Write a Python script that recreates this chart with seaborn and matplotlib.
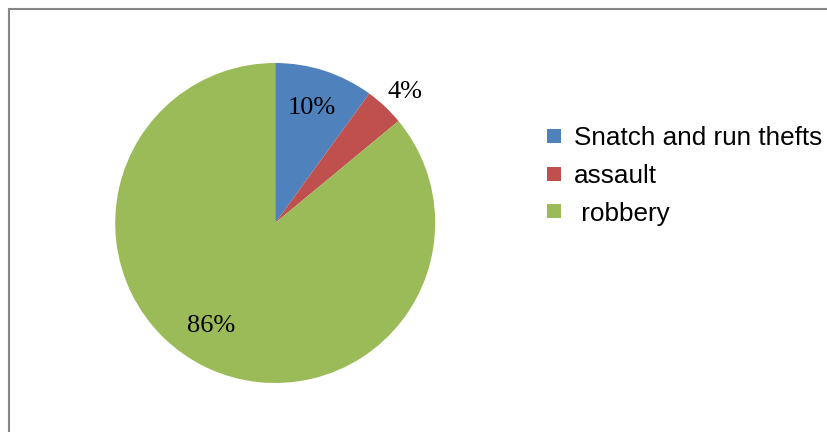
import numpy as np
import matplotlib
matplotlib.use("Agg")
import matplotlib.pyplot as plt
from matplotlib.patches import Rectangle
from matplotlib.lines import Line2D
import seaborn as sns

# Share of incidents by offence type
categories = ["Snatch and run thefts", "assault", " robbery"]
shares = [10, 4, 86]
pct_labels = ["10%", "4%", "86%"]

# Label placement: radius (in pie radii) and angular nudge (degrees) per wedge
label_radius = [0.72, 1.125, 0.79]
label_nudge = [-0.4, -3.0, -5.0]

colors = sns.color_palette(["#4F81BD", "#C0504D", "#9BBB59"])

sns.set_theme(style="white")
plt.rcParams["font.family"] = ["Liberation Sans", "DejaVu Sans"]

W, H = 828, 432
fig = plt.figure(figsize=(W / 100, H / 100), dpi=100)
fig.patch.set_facecolor("white")

# Chart frame (open to the right and bottom)
fig.add_artist(Rectangle((9 / W, -0.1), 1.2, (H - 9) / H + 0.1,
                         transform=fig.transFigure, fill=False,
                         edgecolor="#868686", linewidth=1.5))

cx, cy, r = 275.2, 223.0, 160.0
ax = fig.add_axes([(cx - r) / W, (H - cy - r) / H, 2 * r / W, 2 * r / H])
wedges, _ = ax.pie(shares, colors=colors, startangle=90, counterclock=False,
                   radius=1.0, wedgeprops=dict(linewidth=0))
ax.set_xlim(-1, 1)
ax.set_ylim(-1, 1)
ax.set_aspect("equal")
ax.axis("off")

for w, lab, rad, nudge in zip(wedges, pct_labels, label_radius, label_nudge):
    mid = np.deg2rad((w.theta1 + w.theta2) / 2 + nudge)
    ax.text(rad * np.cos(mid), rad * np.sin(mid), lab, ha="center", va="baseline",
            fontsize=19, family=["Liberation Serif", "DejaVu Serif"], color="black")

handles = [Line2D([], [], marker="s", linestyle="none", markersize=9.5,
                  markerfacecolor=c, markeredgewidth=0) for c in colors]
fig.legend(handles, categories, loc="center left",
           bbox_to_anchor=(543.4 / W, (H - 176.0) / H),
           frameon=False, fontsize=18.8, handlelength=0.8, handletextpad=0.36,
           labelspacing=0.52, borderpad=0, borderaxespad=0, labelcolor="black")

fig.savefig("out.png", dpi=100, facecolor="white")
